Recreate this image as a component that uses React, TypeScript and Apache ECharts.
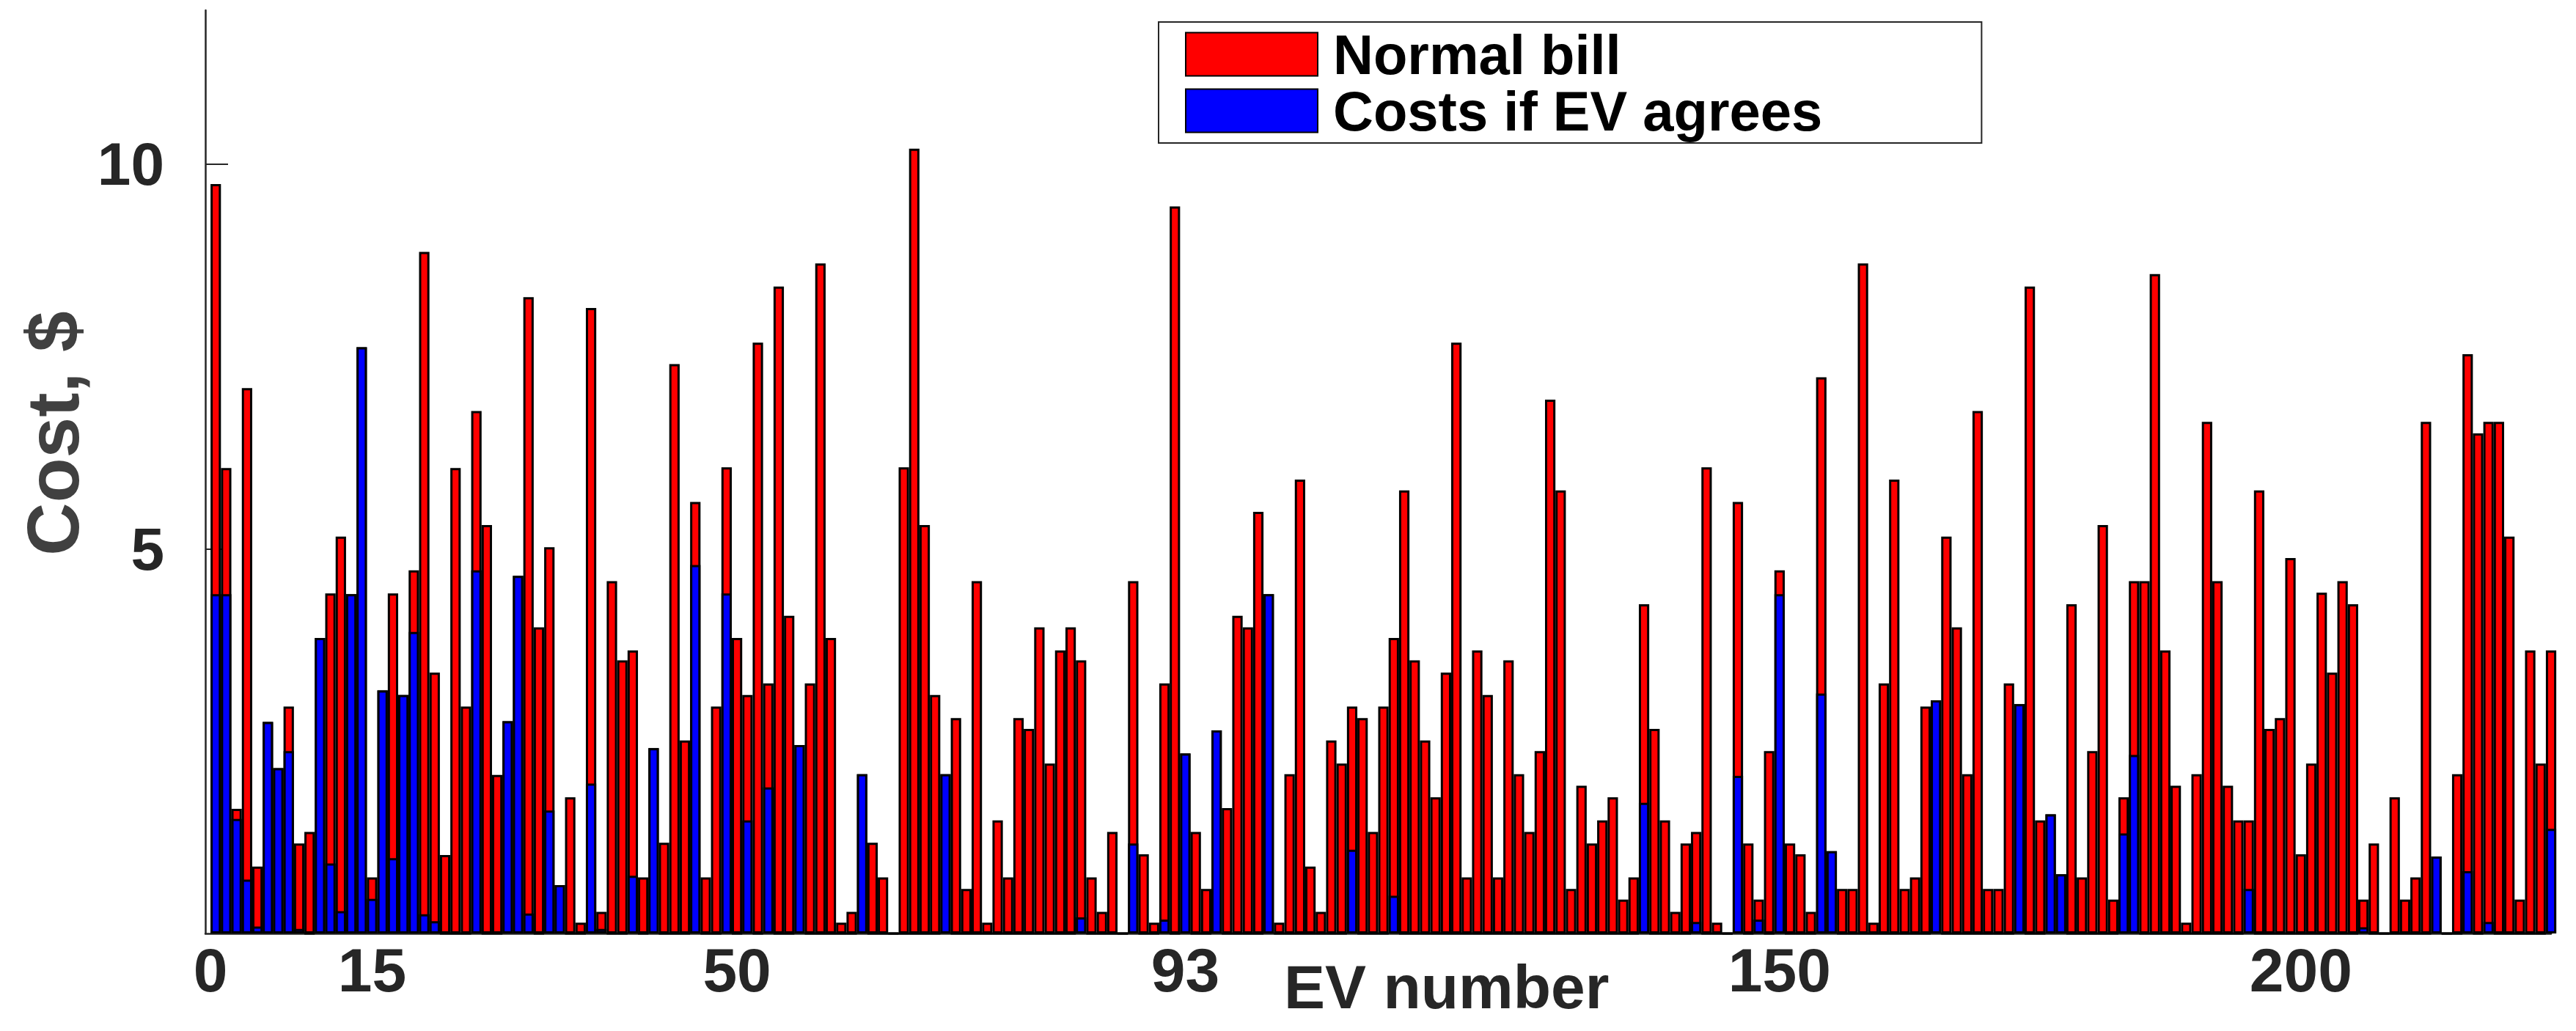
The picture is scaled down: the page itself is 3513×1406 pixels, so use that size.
import React, { useEffect, useRef } from "react";
import * as echarts from "echarts";

// Normal bill for EV 1..225 ($)
const normalBill: number[] = [
  9.74, 6.05, 1.62, 7.09, 0.87, 2.75, 2.15, 2.95, 1.17, 1.32,
  3.84, 4.42, 5.16, 4.41, 7.62, 0.73, 3.16, 4.42, 3.10, 4.72,
  8.86, 3.39, 1.02, 6.05, 2.95, 6.79, 5.31, 2.06, 2.76, 4.65,
  8.27, 3.98, 5.02, 0.63, 1.77, 0.14, 8.13, 0.28, 4.58, 3.55,
  3.68, 0.73, 2.41, 1.18, 7.40, 2.51, 5.61, 0.73, 2.95, 6.06,
  3.84, 3.10, 7.68, 3.25, 8.41, 4.13, 2.45, 3.25, 8.71, 3.84,
  0.14, 0.28, 2.07, 1.18, 0.73, 0, 6.06, 10.2, 5.31, 3.10,
  2.07, 2.80, 0.58, 4.58, 0.14, 1.47, 0.73, 2.80, 2.66, 3.98,
  2.21, 3.68, 3.98, 3.55, 0.73, 0.28, 1.32, 0, 4.58, 1.03,
  0.14, 3.25, 9.45, 2.34, 1.32, 0.58, 2.64, 1.63, 4.13, 3.98,
  5.48, 4.41, 0.14, 2.07, 5.90, 0.87, 0.28, 2.51, 2.21, 2.95,
  2.80, 1.32, 2.95, 3.84, 5.76, 3.55, 2.51, 1.77, 3.39, 7.68,
  0.73, 3.68, 3.10, 0.73, 3.55, 2.07, 1.32, 2.37, 6.94, 5.76,
  0.58, 1.92, 1.17, 1.47, 1.77, 0.44, 0.73, 4.28, 2.66, 1.47,
  0.28, 1.17, 1.32, 6.06, 0.14, 0, 5.61, 1.17, 0.44, 2.37,
  4.72, 1.17, 1.03, 0.28, 7.23, 1.07, 0.58, 0.58, 8.71, 0.14,
  3.25, 5.90, 0.58, 0.73, 2.95, 3.03, 5.16, 3.98, 2.07, 6.79,
  0.58, 0.58, 3.25, 2.98, 8.41, 1.47, 1.55, 0.77, 4.28, 0.73,
  2.37, 5.31, 0.44, 1.77, 4.58, 4.58, 8.57, 3.68, 1.92, 0.14,
  2.07, 6.65, 4.58, 1.92, 1.47, 1.47, 5.76, 2.66, 2.80, 4.88,
  1.03, 2.21, 4.43, 3.39, 4.58, 4.28, 0.44, 1.17, 0, 1.77,
  0.44, 0.73, 6.65, 1.00, 0, 2.07, 7.53, 6.50, 6.65, 6.65,
  5.16, 0.44, 3.68, 2.21, 3.68,
];

// Costs if EV agrees, EV 1..225 ($)
const evAgreesCost: number[] = [
  4.41, 4.41, 1.49, 0.70, 0.09, 2.75, 2.15, 2.37, 0.06, 0,
  3.84, 0.91, 0.29, 4.41, 7.62, 0.45, 3.16, 0.98, 3.10, 3.92,
  0.25, 0.16, 0, 0, 0, 4.72, 0, 0, 2.76, 4.65,
  0.26, 0, 1.60, 0.63, 0, 0, 1.95, 0.06, 0, 0,
  0.75, 0, 2.41, 0, 0, 0, 4.79, 0, 0, 4.42,
  0, 1.47, 0, 1.90, 0, 0, 2.45, 0, 0, 0,
  0, 0, 2.07, 0, 0, 0, 0, 0, 0, 0,
  2.07, 0, 0, 0, 0, 0, 0, 0, 0, 0,
  0, 0, 0, 0.21, 0, 0, 0, 0, 1.17, 0,
  0, 0.18, 0, 2.34, 0, 0, 2.64, 0, 0, 0,
  0, 4.41, 0, 0, 0, 0, 0, 0, 0, 1.09,
  0, 0, 0, 0.49, 0, 0, 0, 0, 0, 0,
  0, 0, 0, 0, 0, 0, 0, 0, 0, 0,
  0, 0, 0, 0, 0, 0, 0, 1.70, 0, 0,
  0, 0, 0.15, 0, 0, 0, 2.05, 0, 0.18, 0,
  4.41, 0, 0, 0, 3.12, 1.07, 0, 0, 0, 0,
  0, 0, 0, 0, 0, 3.03, 0, 0, 0, 0,
  0, 0, 0, 2.98, 0, 0, 1.55, 0.77, 0, 0,
  0, 0, 0, 1.30, 2.32, 0, 0, 0, 0, 0,
  0, 0, 0, 0, 0, 0.58, 0, 0, 0, 0,
  0, 0, 0, 0, 0, 0, 0.08, 0, 0, 0,
  0, 0, 0, 1.00, 0, 0, 0.81, 0, 0.15, 0,
  0, 0, 0, 0, 1.36,
];

const evNumbers: number[] = normalBill.map((_, i) => i + 1);
// x tick positions (in bar units) and the labels printed at them
const xTickValues: number[] = [0.5, 16, 51, 94, 151, 201];
const xTickLabels: string[] = ["0", "15", "50", "93", "150", "200"];
const yTickValues: number[] = [5, 10];
const seriesNames: string[] = ["Normal bill", "Costs if EV agrees"];

const FONT = '"Liberation Sans", Arial, Helvetica, sans-serif';

export default function App() {
  const ref = useRef<HTMLDivElement>(null);

  useEffect(() => {
    if (!ref.current) return;
    const chart = echarts.init(ref.current, null, { renderer: "svg" });

    const barStyle = (color: string) => ({
      color,
      borderColor: "#000000",
      borderWidth: 3,
    });

    chart.setOption({
      animation: false,
      backgroundColor: "#ffffff",
      grid: { left: 280, right: 34, top: 14, bottom: 133 },
      legend: {
        orient: "vertical",
        left: 1580,
        top: 30,
        icon: "rect",
        itemWidth: 180,
        itemHeight: 59,
        itemGap: 1,
        padding: [6, 217, 6, 36],
        borderColor: "#262626",
        borderWidth: 2,
        backgroundColor: "#ffffff",
        selectedMode: false,
        itemStyle: { borderWidth: 2, borderColor: "#000000" },
        textStyle: {
          fontSize: 76,
          lineHeight: 76,
          fontWeight: "bold",
          fontFamily: FONT,
          color: "#000000",
          padding: [0, 0, 0, 16],
        },
        data: seriesNames,
      },
      xAxis: {
        type: "value",
        min: 0,
        max: 225,
        axisLine: { show: true, lineStyle: { color: "#262626", width: 2.5 } },
        axisTick: { show: false },
        axisLabel: {
          customValues: xTickValues,
          margin: 8,
          fontSize: 84,
          fontWeight: "bold",
          fontFamily: FONT,
          color: "#262626",
          formatter: (v: number) => {
            const k = xTickValues.indexOf(v);
            return k >= 0 ? xTickLabels[k] : "";
          },
        },
        splitLine: { show: false },
      },
      yAxis: {
        type: "value",
        min: 0,
        max: 12,
        axisLine: { show: true, lineStyle: { color: "#262626", width: 2.5 } },
        axisTick: {
          show: true,
          inside: true,
          length: 31,
          customValues: yTickValues,
          lineStyle: { color: "#262626", width: 2 },
        },
        axisLabel: {
          customValues: yTickValues,
          margin: 56,
          fontSize: 82,
          fontWeight: "bold",
          fontFamily: FONT,
          color: "#262626",
        },
        splitLine: { show: false },
      },
      graphic: [
        {
          type: "text",
          x: 72,
          y: 591,
          rotation: Math.PI / 2,
          style: {
            text: "Cost, $",
            fontSize: 100,
            fontWeight: "bold",
            fontFamily: FONT,
            fill: "#404040",
            align: "center",
            verticalAlign: "middle",
          },
        },
        {
          type: "text",
          x: 1751,
          y: 1346,
          style: {
            text: "EV number",
            fontSize: 84,
            fontWeight: "bold",
            fontFamily: FONT,
            fill: "#262626",
            align: "left",
            verticalAlign: "middle",
          },
        },
      ],
      series: [
        {
          name: seriesNames[0],
          type: "bar",
          barWidth: 14.2,
          barGap: "-100%",
          itemStyle: barStyle("#ff0000"),
          data: evNumbers.map((x, i) => [x, normalBill[i]]),
        },
        {
          name: seriesNames[1],
          type: "bar",
          barWidth: 14.2,
          barGap: "-100%",
          itemStyle: barStyle("#0000ff"),
          data: evNumbers.map((x, i) => [x, evAgreesCost[i]]),
        },
      ],
    });

    return () => chart.dispose();
  }, []);

  return (
    <div
      ref={ref}
      style={{ position: "fixed", left: 0, top: 0, width: 3513, height: 1406 }}
    />
  );
}
